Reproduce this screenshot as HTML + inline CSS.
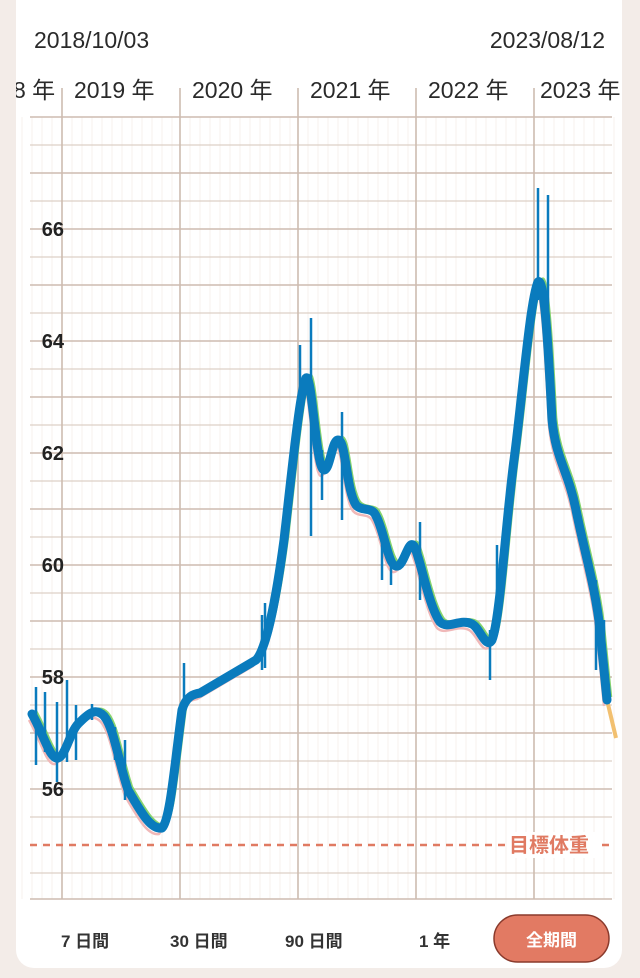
<!DOCTYPE html>
<html><head><meta charset="utf-8"><style>
body{margin:0;width:640px;height:978px;background:#f3ece8;overflow:hidden;font-family:"Liberation Sans","Noto Sans CJK JP",sans-serif}
.card{position:absolute;left:16px;top:-20px;width:606px;height:988px;background:#fff;border-radius:18px}
</style></head><body>
<div class="card"></div>
<svg width="640" height="978" style="position:absolute;left:0;top:0" font-family="Liberation Sans, Noto Sans CJK JP, sans-serif">
<defs><clipPath id="c"><rect x="16" y="0" width="606" height="978"/></clipPath></defs>
<g clip-path="url(#c)">
<text x="34" y="48" font-size="23" fill="#2a2a2a">2018/10/03</text>
<text x="605" y="48" font-size="23" fill="#2a2a2a" text-anchor="end">2023/08/12</text>
<g font-size="23" fill="#2a2a2a">
<text x="13" y="98">8 年</text><text x="74" y="98">2019 年</text><text x="192" y="98">2020 年</text><text x="310" y="98">2021 年</text><text x="428" y="98">2022 年</text><text x="540" y="98">2023 年</text>
</g>
<g stroke="#f7f2ee" stroke-width="1">
<path id="mv" d="M72 117V899M82 117V899M92 117V899M102 117V899M112 117V899M122 117V899M132 117V899M142 117V899M152 117V899M162 117V899M172 117V899"/>
<use href="#mv" x="-50"/><use href="#mv" x="118"/><use href="#mv" x="236"/><use href="#mv" x="354"/><use href="#mv" x="472"/>
</g>
<g stroke="#ddd0c6" stroke-width="1.3">
<path d="M30 145H612M30 201H612M30 257H612M30 313H612M30 369H612M30 425H612M30 481H612M30 537H612M30 593H612M30 649H612M30 705H612M30 761H612M30 817H612M30 873H612"/>
</g>
<g stroke="#cdbcb0" stroke-width="1.6">
<path d="M30 117H612M30 173H612M30 229H612M30 285H612M30 341H612M30 397H612M30 453H612M30 509H612M30 565H612M30 621H612M30 677H612M30 733H612M30 789H612M30 899H612"/>
<path d="M62 88V899M180 88V899M298 88V899M416 88V899M534 88V899"/>
</g>
<line x1="30" y1="845" x2="612" y2="845" stroke="#e07a62" stroke-width="2.5" stroke-dasharray="7,6"/>
<rect x="508" y="832" width="88" height="26" fill="#fff"/>
<text x="509" y="852" font-size="20" font-weight="bold" fill="#e07a62">目標体重</text>
<g font-size="20" font-weight="bold" fill="#222" text-anchor="end">
<text x="64" y="236">66</text><text x="64" y="348">64</text><text x="64" y="460">62</text><text x="64" y="572">60</text><text x="64" y="684">58</text><text x="64" y="796">56</text>
</g>
<g fill="none" stroke-width="2.5" stroke-linejoin="round">
<path d="M32 714 C44 735,50 760,58 758 C66 756,70 730,80 722 C90 712,96 708,104 716 C114 728,118 760,128 790 C140 810,150 830,162 828 C170 820,174 770,182 710 C186 696,194 694,200 693 L256 660 C266 650,276 600,284 540 C292 470,300 390,306 378 C312 372,316 470,324 470 C330 470,332 440,338 440 C346 440,346 490,356 505 C362 512,372 506,376 516 C384 530,388 565,396 566 C404 568,408 538,414 546 C420 556,428 605,440 622 C448 630,460 618,472 624 C480 628,486 650,492 640 C500 620,506 520,514 460 C522 400,530 300,538 282 C544 276,548 340,552 420 C556 460,568 470,576 510 C584 550,596 590,600 630 C604 670,606 690,607 700" stroke="#f0b8b8" transform="translate(-3,6)"/>
<path d="M32 714 C44 735,50 760,58 758 C66 756,70 730,80 722 C90 712,96 708,104 716 C114 728,118 760,128 790 C140 810,150 830,162 828 C170 820,174 770,182 710 C186 696,194 694,200 693 L256 660 C266 650,276 600,284 540 C292 470,300 390,306 378 C312 372,316 470,324 470 C330 470,332 440,338 440 C346 440,346 490,356 505 C362 512,372 506,376 516 C384 530,388 565,396 566 C404 568,408 538,414 546 C420 556,428 605,440 622 C448 630,460 618,472 624 C480 628,486 650,492 640 C500 620,506 520,514 460 C522 400,530 300,538 282 C544 276,548 340,552 420 C556 460,568 470,576 510 C584 550,596 590,600 630 C604 670,606 690,607 700" stroke="#86d46e" transform="translate(4,-3)"/>
</g>
<path d="M607 700 L616 738" stroke="#f2c070" stroke-width="4"/>
<g stroke="#0a7bbd" stroke-width="2.5">
<path d="M36 687V765M45 692V752M57 702V782M67 680V762M76 705V760M92 704V720M115 727V760M125 740V800M184 663V700M262 615V670M265 603V668M300 345V430M311 318V536M322 450V500M342 412V520M382 540V580M391 560V585M420 522V600M490 630V680M497 545V610M538 188V300M548 195V320M596 580V670M604 620V690"/>
</g>
<path d="M32 714 C44 735,50 760,58 758 C66 756,70 730,80 722 C90 712,96 708,104 716 C114 728,118 760,128 790 C140 810,150 830,162 828 C170 820,174 770,182 710 C186 696,194 694,200 693 L256 660 C266 650,276 600,284 540 C292 470,300 390,306 378 C312 372,316 470,324 470 C330 470,332 440,338 440 C346 440,346 490,356 505 C362 512,372 506,376 516 C384 530,388 565,396 566 C404 568,408 538,414 546 C420 556,428 605,440 622 C448 630,460 618,472 624 C480 628,486 650,492 640 C500 620,506 520,514 460 C522 400,530 300,538 282 C544 276,548 340,552 420 C556 460,568 470,576 510 C584 550,596 590,600 630 C604 670,606 690,607 700" fill="none" stroke="#0a7bbd" stroke-width="9" stroke-linecap="round" stroke-linejoin="round"/>
<g font-size="17" font-weight="bold" fill="#333">
<text x="61" y="947">7 日間</text><text x="170" y="947">30 日間</text><text x="285" y="947">90 日間</text><text x="419" y="947">1 年</text>
</g>
<rect x="494" y="915" width="115" height="47" rx="23.5" fill="#e27a63" stroke="#8a3a2c" stroke-width="1.5"/>
<text x="551.5" y="946" font-size="17" font-weight="bold" fill="#fff" text-anchor="middle">全期間</text>
</g>
</svg>
</body></html>
